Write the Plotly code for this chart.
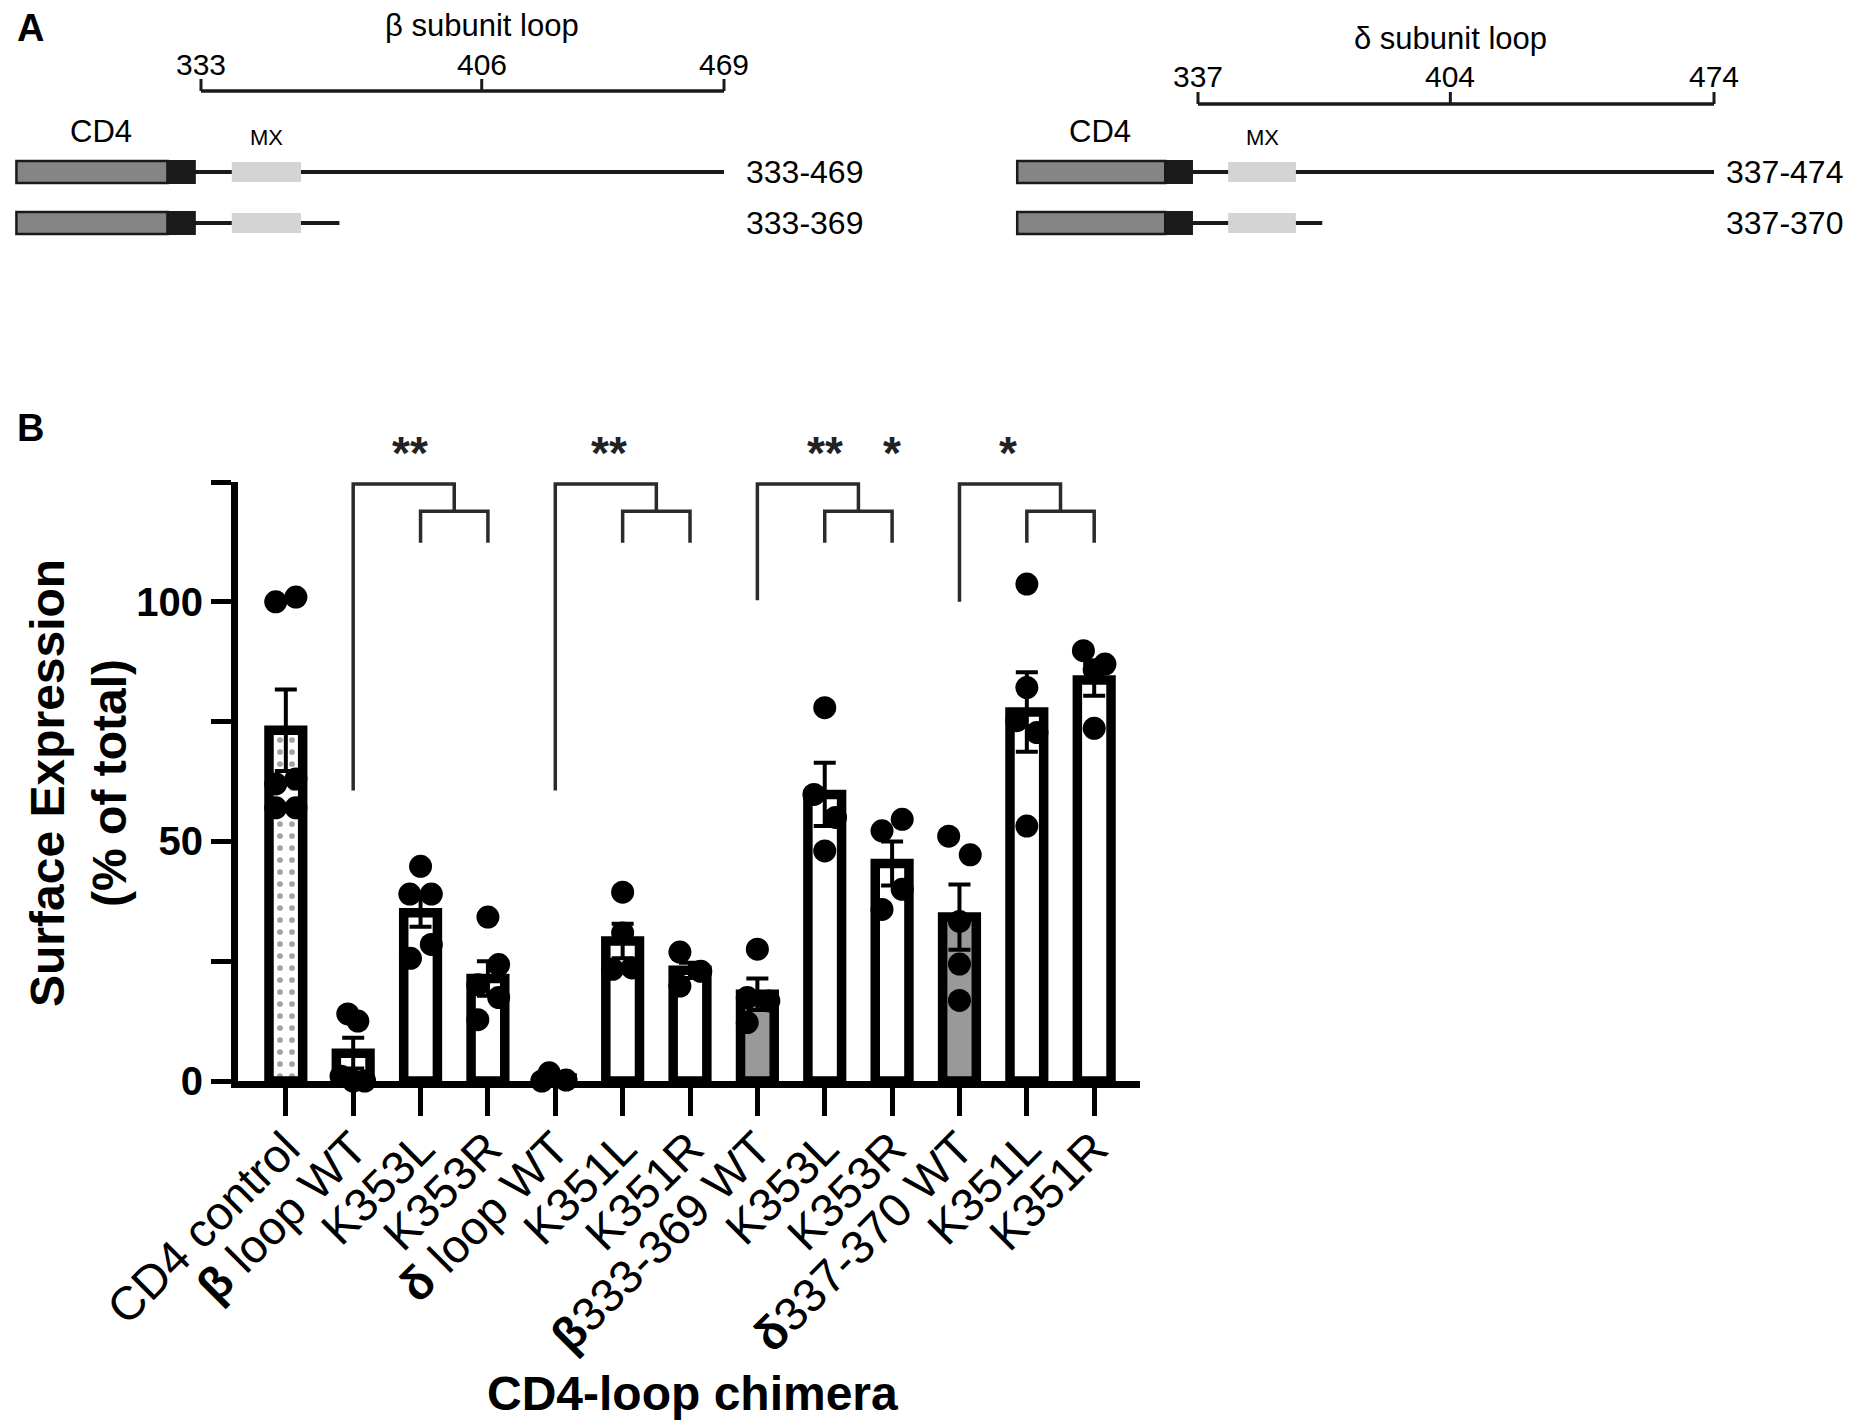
import plotly.graph_objects as go

W, H = 1858, 1426

# ---- panel B: surface expression of the CD4-loop chimeras (% of total) ----
chimeras = ['CD4 control', '<b>β</b> loop WT', 'K353L', 'K353R', '<b>δ</b> loop WT',
            'K351L', 'K351R', '<b>β</b>333-369 WT', 'K353L', 'K353R',
            '<b>δ</b>337-370 WT', 'K351L', 'K351R']
mean_expr = [73.2, 5.8, 35.1, 21.4, 0.6, 29.2, 23.1, 18.1, 59.8, 45.4, 34.2, 77.0, 83.7]
sem_expr = [8.5, 3.2, 2.9, 3.6, 0.5, 3.6, 1.6, 3.3, 6.6, 4.6, 6.8, 8.3, 3.3]
replicates = [
    [100, 101, 62, 63, 57, 57],
    [14, 12.5, 1, 0, 0],
    [44.8, 39, 39, 25.6, 28.5],
    [34.2, 24.3, 20.1, 17.4, 12.8],
    [1.7, 0.2, 0],
    [39.4, 30.9, 23.3, 23.6],
    [26.9, 22.9, 19.8],
    [27.5, 17.4, 16.7, 12.2],
    [77.9, 59.8, 55, 48],
    [52.2, 54.6, 40, 35.8],
    [51.1, 47.2, 33.3, 24.4, 16.8],
    [103.7, 82.1, 75.2, 72.7, 53.2],
    [89.8, 87, 85.8, 73.6],
]
# sideways spread of each replicate dot (fraction of a category)
dot_spread = [
    [-0.15, 0.15, -0.15, 0.15, -0.15, 0.15],
    [-0.08, 0.07, -0.18, 0, 0.17],
    [0, -0.16, 0.16, -0.15, 0.16],
    [0, 0.16, -0.15, 0.16, -0.15],
    [-0.09, 0.16, -0.2],
    [0, 0, -0.15, 0.14],
    [-0.15, 0.16, -0.15],
    [0, -0.15, 0.17, -0.15],
    [0, -0.16, 0.16, 0],
    [-0.15, 0.15, 0.15, -0.15],
    [-0.16, 0.16, 0, 0, 0],
    [0, 0, -0.15, 0.15, 0],
    [-0.16, 0.16, 0, 0],
]
gray_bars = [7, 10]
dotted_bars = [0]

# brackets: WT bar, the two mutants, lower end of the WT leg
comparisons = [(1, 2, 3, 60.6), (4, 5, 6, 60.6), (7, 8, 9, 100.3), (10, 11, 12, 100.0)]
stars = [(2, '**'), (5, '**'), (8, '**'), (9, '*'), (11, '*')]

# ---- panel A: loop constructs, residue numbers ----
beta_ticks = [333, 406, 469]
delta_ticks = [337, 404, 474]
beta_constructs = [(333, 469), (333, 369)]
delta_constructs = [(337, 474), (337, 370)]


def px(x):
    return x / W


def py(y):
    return 1 - y / H


def res_range(r0, p0, r1, p1, left, right):
    k = (p1 - p0) / (r1 - r0)
    return [r0 - (p0 - left) / k, r0 + (right - p0) / k]


fig = go.Figure()

fills = ['#999999' if i in gray_bars else 'white' for i in range(len(chimeras))]
shapes_pat = ['.' if i in dotted_bars else '' for i in range(len(chimeras))]
fig.add_trace(go.Bar(
    x=list(range(len(chimeras))), y=mean_expr, width=0.5,
    marker=dict(color=fills, line=dict(color='black', width=9.5),
                pattern=dict(shape=shapes_pat, fgcolor='black', bgcolor='white',
                             size=12, solidity=0.18, fillmode='overlay')),
    error_y=dict(type='data', array=sem_expr, color='black', thickness=4, width=11),
    showlegend=False))

xs, ys = [], []
for i, vals in enumerate(replicates):
    for v, d in zip(vals, dot_spread[i]):
        xs.append(i + d)
        ys.append(v)
fig.add_trace(go.Scatter(x=xs, y=ys, mode='markers', cliponaxis=False,
                         marker=dict(size=23, color='black'), showlegend=False))

shapes = []
annos = []
top, mid_y, leg = 124.6, 118.9, 112.3
for ref, a, b, floor in comparisons:
    m = (a + b) / 2
    shapes.append(dict(type='path', xref='x', yref='y',
                       path=f'M {ref},{floor} L {ref},{top} L {m},{top} L {m},{mid_y}',
                       line=dict(color='#2b2b2b', width=3.5)))
    shapes.append(dict(type='path', xref='x', yref='y',
                       path=f'M {a},{leg} L {a},{mid_y} L {b},{mid_y} L {b},{leg}',
                       line=dict(color='#2b2b2b', width=3.5)))
star_nudge = {2: -11, 5: -14, 11: -19}
for c, s in stars:
    annos.append(dict(x=c, y=131 / 125, xref='x', yref='y domain', text=s, showarrow=False,
                      xanchor='center', yanchor='middle', xshift=star_nudge.get(c, 0),
                      font=dict(size=46, color='#222', family='Liberation Sans', weight='bold')))

# axis titles and panel letters
annos.append(dict(x=px(70), y=py(775), xref='paper', yref='paper', textangle=-90,
                  xanchor='center', yanchor='middle',
                  text='Surface Expression<br>(% of total)', showarrow=False,
                  font=dict(size=48, family='Liberation Sans', weight='bold', color='black')))
annos.append(dict(x=px(684), y=py(1385), xref='paper', yref='paper',
                  xanchor='center', yanchor='middle',
                  text='CD4-loop chimera', showarrow=False,
                  font=dict(size=48, family='Liberation Sans', weight='bold', color='black')))
for letter, yy in [('A', 20), ('B', 420)]:
    annos.append(dict(x=px(22), y=py(yy), xref='paper', yref='paper', text=letter,
                      xanchor='center', yanchor='middle', showarrow=False,
                      font=dict(size=38, family='Liberation Sans', weight='bold', color='black')))


def schematic(xref, ticks, constructs, title, bar_px, tick_px, title_px, label_dx):
    f = dict(family='Liberation Sans', color='black')
    mid = dict(xanchor='center', yanchor='middle', showarrow=False, xref=xref, yref='paper')
    start = ticks[0]
    # scale bar
    shapes.append(dict(type='line', xref=xref, yref='paper', x0=ticks[0], x1=ticks[-1],
                       y0=py(bar_px), y1=py(bar_px), line=dict(color='#1a1a1a', width=3.5)))
    for t in ticks:
        shapes.append(dict(type='line', xref=xref, yref='paper', x0=t, x1=t,
                           y0=py(bar_px), y1=py(bar_px - 12), line=dict(color='#1a1a1a', width=3)))
        annos.append(dict(x=t, y=py(tick_px), text=str(t), font=dict(size=30, **f), **mid))
    annos.append(dict(x=ticks[1], y=py(title_px), text=title, font=dict(size=31, **f), **mid))
    annos.append(dict(x=start - 26, y=py(124), text='CD4', font=dict(size=31, **f), **mid))
    annos.append(dict(x=start + 17, y=py(129), text='MX', font=dict(size=22, **f), **mid))
    for row, (s, e) in zip([164, 215], constructs):
        shapes.append(dict(type='line', xref=xref, yref='paper', x0=s - 2, x1=e,
                           y0=py(row), y1=py(row), line=dict(color='#1a1a1a', width=4)))
        shapes.append(dict(type='rect', xref=xref, yref='paper', x0=s - 48, x1=s - 8.7,
                           y0=py(row + 11), y1=py(row - 11), fillcolor='#858585',
                           line=dict(color='#1a1a1a', width=2.5)))
        shapes.append(dict(type='rect', xref=xref, yref='paper', x0=s - 8.7, x1=s - 1.6,
                           y0=py(row + 11), y1=py(row - 11), fillcolor='#1a1a1a',
                           line=dict(color='#1a1a1a', width=2)))
        shapes.append(dict(type='rect', xref=xref, yref='paper', x0=s + 8, x1=s + 26,
                           y0=py(row + 10), y1=py(row - 10), fillcolor='#d4d4d4',
                           line=dict(width=0)))
        annos.append(dict(x=constructs[0][1], y=py(row), xref=xref, yref='paper',
                          text=f'{s}-{e}', xanchor='left', yanchor='middle', xshift=label_dx,
                          showarrow=False, font=dict(size=32, **f)))


schematic('x2', beta_ticks, beta_constructs, 'β subunit loop', 83, 56, 17, 20)
schematic('x3', delta_ticks, delta_constructs, 'δ subunit loop', 96, 68, 31, 10)

fig.update_layout(
    width=W, height=H, margin=dict(l=0, r=0, t=0, b=0, pad=0, autoexpand=False),
    paper_bgcolor='white', plot_bgcolor='white', showlegend=False,
    shapes=shapes, annotations=annos,
    xaxis=dict(domain=[px(230), px(1132)], range=[-0.71, 12.68], automargin=False,
               tickvals=list(range(len(chimeras))), ticktext=chimeras, tickangle=-45,
               tickfont=dict(size=47, family='Liberation Sans', color='black'),
               ticklabelstandoff=-14,
               showline=True, linewidth=7, linecolor='black', ticks='outside',
               ticklen=28, tickwidth=5, tickcolor='black', showgrid=False, zeroline=False),
    yaxis=dict(domain=[py(1073), py(474)], range=[0, 125], automargin=False,
               tickvals=[0, 25, 50, 75, 100, 125], ticktext=['0', '', '50', '', '100', ''],
               tickfont=dict(size=40, family='Liberation Sans', color='black', weight='bold'),
               showline=True, linewidth=7, linecolor='black', ticks='outside',
               ticklen=20, tickwidth=5, tickcolor='black', showgrid=False, zeroline=False),
    xaxis2=dict(domain=[0, px(870)], range=res_range(333, 193, 469, 716, 0, 870),
                visible=False, anchor='y2'),
    yaxis2=dict(domain=[py(260), 1], range=[0, 1], visible=False, anchor='x2'),
    xaxis3=dict(domain=[px(880), 1], range=res_range(337, 1190, 474, 1706, 880, W),
                visible=False, anchor='y3'),
    yaxis3=dict(domain=[py(260), 1], range=[0, 1], visible=False, anchor='x3'),
)

fig.write_html('out.html')
